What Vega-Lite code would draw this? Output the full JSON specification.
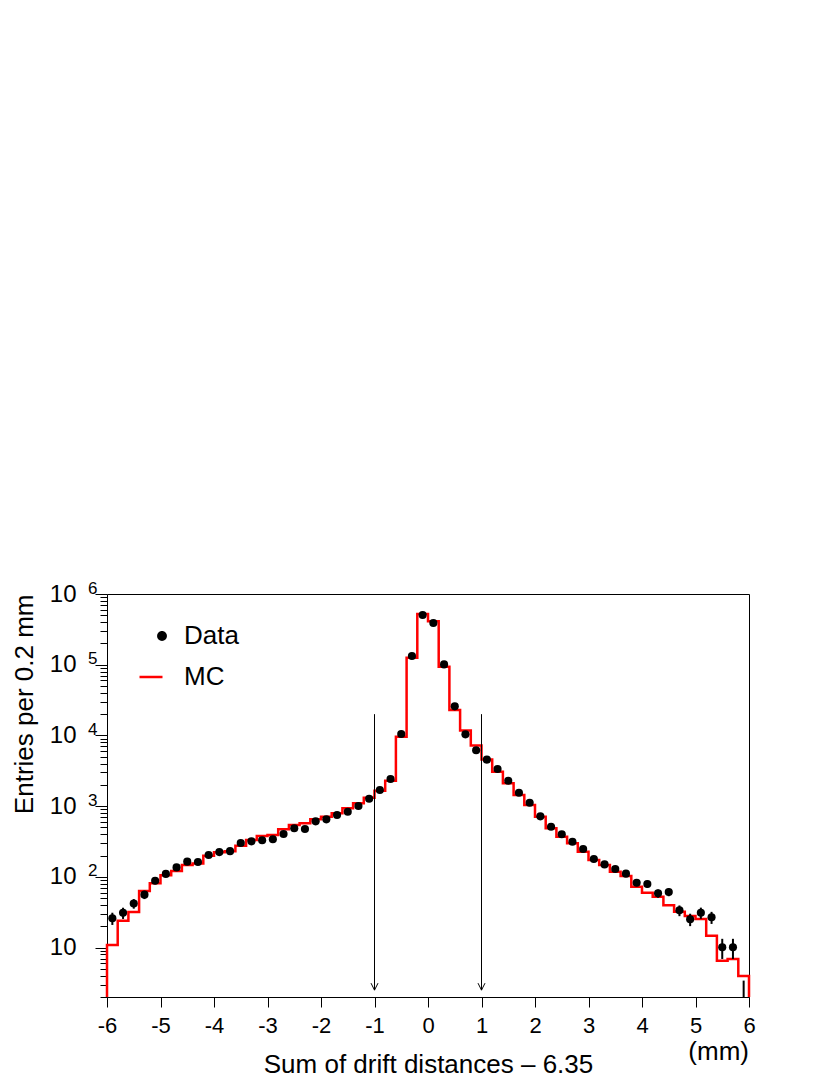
{
  "$schema": "https://vega.github.io/schema/vega-lite/v6.json",
  "autosize": "none",
  "width": 642,
  "height": 403,
  "padding": {"left": 107, "top": 594, "right": 81, "bottom": 78},
  "background": "white",
  "config": {"view": {"stroke": "black", "strokeWidth": 1}, "font": "Liberation Sans"},
  "title": {"text": "(mm)", "orient": "bottom", "anchor": "end", "frame": "group", "fontSize": 26, "fontWeight": "normal", "color": "black", "offset": -38, "font": "Liberation Sans"},
  "resolve": {"axis": {"y": "independent"}},
  "datasets": {
    "hist": [
      {"x": -5.9, "n": 26, "lo": 20.9, "hi": 31.1},
      {"x": -5.7, "n": 31, "lo": 25.4, "hi": 36.6},
      {"x": -5.5, "n": 42, "lo": 35.5, "hi": 48.5},
      {"x": -5.3, "n": 56, "lo": 48.5, "hi": 63.5},
      {"x": -5.1, "n": 88, "lo": 78.6, "hi": 97.4},
      {"x": -4.9, "n": 110, "lo": 99.5, "hi": 120.5},
      {"x": -4.7, "n": 136, "lo": 124.3, "hi": 147.7},
      {"x": -4.5, "n": 164, "lo": 151.2, "hi": 176.8},
      {"x": -4.3, "n": 162, "lo": 149.3, "hi": 174.7},
      {"x": -4.1, "n": 204, "lo": 189.7, "hi": 218.3},
      {"x": -3.9, "n": 224, "lo": 209, "hi": 239},
      {"x": -3.7, "n": 231, "lo": 215.8, "hi": 246.2},
      {"x": -3.5, "n": 301, "lo": 283.7, "hi": 318.3},
      {"x": -3.3, "n": 318, "lo": 300.2, "hi": 335.8},
      {"x": -3.1, "n": 329, "lo": 310.9, "hi": 347.1},
      {"x": -2.9, "n": 340, "lo": 321.6, "hi": 358.4},
      {"x": -2.7, "n": 403, "lo": 382.9, "hi": 423.1},
      {"x": -2.5, "n": 486, "lo": 464, "hi": 508},
      {"x": -2.3, "n": 475, "lo": 453.2, "hi": 496.8},
      {"x": -2.1, "n": 610, "lo": 585.3, "hi": 634.7},
      {"x": -1.9, "n": 651, "lo": 625.5, "hi": 676.5},
      {"x": -1.7, "n": 750, "lo": 722.6, "hi": 777.4},
      {"x": -1.5, "n": 834, "lo": 805.1, "hi": 862.9},
      {"x": -1.3, "n": 1004, "lo": 972.3, "hi": 1035.7},
      {"x": -1.1, "n": 1274, "lo": 1238.3, "hi": 1309.7},
      {"x": -0.9, "n": 1692, "lo": 1650.9, "hi": 1733.1},
      {"x": -0.7, "n": 2420, "lo": 2370.8, "hi": 2469.2},
      {"x": -0.5, "n": 10470, "lo": 10368, "hi": 10572},
      {"x": -0.3, "n": 132700, "lo": 132336, "hi": 133064},
      {"x": -0.1, "n": 505000, "lo": 504289, "hi": 505711},
      {"x": 0.1, "n": 389000, "lo": 388376, "hi": 389624},
      {"x": 0.3, "n": 101000, "lo": 100682, "hi": 101318},
      {"x": 0.5, "n": 25800, "lo": 25639, "hi": 25961},
      {"x": 0.7, "n": 10370, "lo": 10268, "hi": 10472},
      {"x": 0.9, "n": 6160, "lo": 6081.5, "hi": 6238.5},
      {"x": 1.1, "n": 4540, "lo": 4472.6, "hi": 4607.4},
      {"x": 1.3, "n": 3350, "lo": 3292.1, "hi": 3407.9},
      {"x": 1.5, "n": 2290, "lo": 2242.1, "hi": 2337.9},
      {"x": 1.7, "n": 1549, "lo": 1509.6, "hi": 1588.4},
      {"x": 1.9, "n": 1119, "lo": 1085.5, "hi": 1152.5},
      {"x": 2.1, "n": 718, "lo": 691.2, "hi": 744.8},
      {"x": 2.3, "n": 512, "lo": 489.4, "hi": 534.6},
      {"x": 2.5, "n": 400, "lo": 380, "hi": 420},
      {"x": 2.7, "n": 314, "lo": 296.3, "hi": 331.7},
      {"x": 2.9, "n": 248, "lo": 232.3, "hi": 263.7},
      {"x": 3.1, "n": 179, "lo": 165.6, "hi": 192.4},
      {"x": 3.3, "n": 150, "lo": 137.8, "hi": 162.2},
      {"x": 3.5, "n": 129, "lo": 117.6, "hi": 140.4},
      {"x": 3.7, "n": 111, "lo": 100.5, "hi": 121.5},
      {"x": 3.9, "n": 82.6, "lo": 73.5, "hi": 91.7},
      {"x": 4.1, "n": 79.2, "lo": 70.3, "hi": 88.1},
      {"x": 4.3, "n": 58.5, "lo": 50.85, "hi": 66.15},
      {"x": 4.5, "n": 61, "lo": 53.2, "hi": 68.8},
      {"x": 4.7, "n": 33.6, "lo": 27.8, "hi": 39.4},
      {"x": 4.9, "n": 25.1, "lo": 20.1, "hi": 30.1},
      {"x": 5.1, "n": 31.1, "lo": 25.5, "hi": 36.7},
      {"x": 5.3, "n": 26.8, "lo": 21.6, "hi": 32},
      {"x": 5.5, "n": 10.1, "lo": 6.9, "hi": 13.3},
      {"x": 5.7, "n": 10.1, "lo": 6.9, "hi": 13.3},
      {"x": 5.9, "n": 2, "lo": 0.59, "hi": 3.41}
    ],
    "mc": [
      {"ord": 0, "x": -6.0, "n": 2},
      {"ord": 1, "x": -6.0, "n": 10.9},
      {"ord": 2, "x": -5.8, "n": 24},
      {"ord": 3, "x": -5.6, "n": 31.8},
      {"ord": 4, "x": -5.4, "n": 63},
      {"ord": 5, "x": -5.2, "n": 81},
      {"ord": 6, "x": -5.0, "n": 105},
      {"ord": 7, "x": -4.8, "n": 121},
      {"ord": 8, "x": -4.6, "n": 147},
      {"ord": 9, "x": -4.4, "n": 155},
      {"ord": 10, "x": -4.2, "n": 199},
      {"ord": 11, "x": -4.0, "n": 222},
      {"ord": 12, "x": -3.8, "n": 231},
      {"ord": 13, "x": -3.6, "n": 275},
      {"ord": 14, "x": -3.4, "n": 332},
      {"ord": 15, "x": -3.2, "n": 378},
      {"ord": 16, "x": -3.0, "n": 391},
      {"ord": 17, "x": -2.8, "n": 470},
      {"ord": 18, "x": -2.6, "n": 541},
      {"ord": 19, "x": -2.4, "n": 573},
      {"ord": 20, "x": -2.2, "n": 651},
      {"ord": 21, "x": -2.0, "n": 709},
      {"ord": 22, "x": -1.8, "n": 792},
      {"ord": 23, "x": -1.6, "n": 931},
      {"ord": 24, "x": -1.4, "n": 1096},
      {"ord": 25, "x": -1.2, "n": 1318},
      {"ord": 26, "x": -1.0, "n": 1650},
      {"ord": 27, "x": -0.8, "n": 2290},
      {"ord": 28, "x": -0.6, "n": 9590},
      {"ord": 29, "x": -0.4, "n": 125600},
      {"ord": 30, "x": -0.2, "n": 521000},
      {"ord": 31, "x": 0.0, "n": 411000},
      {"ord": 32, "x": 0.2, "n": 93700},
      {"ord": 33, "x": 0.4, "n": 22900},
      {"ord": 34, "x": 0.6, "n": 11700},
      {"ord": 35, "x": 0.8, "n": 7200},
      {"ord": 36, "x": 1.0, "n": 4550},
      {"ord": 37, "x": 1.2, "n": 3070},
      {"ord": 38, "x": 1.4, "n": 2100},
      {"ord": 39, "x": 1.6, "n": 1436},
      {"ord": 40, "x": 1.8, "n": 1038},
      {"ord": 41, "x": 2.0, "n": 709},
      {"ord": 42, "x": 2.2, "n": 486},
      {"ord": 43, "x": 2.4, "n": 370},
      {"ord": 44, "x": 2.6, "n": 298},
      {"ord": 45, "x": 2.8, "n": 227},
      {"ord": 46, "x": 3.0, "n": 173},
      {"ord": 47, "x": 3.2, "n": 147},
      {"ord": 48, "x": 3.4, "n": 118},
      {"ord": 49, "x": 3.6, "n": 103},
      {"ord": 50, "x": 3.8, "n": 72.6},
      {"ord": 51, "x": 4.0, "n": 59.7},
      {"ord": 52, "x": 4.2, "n": 52.4},
      {"ord": 53, "x": 4.4, "n": 39.6},
      {"ord": 54, "x": 4.6, "n": 32.1},
      {"ord": 55, "x": 4.8, "n": 27.9},
      {"ord": 56, "x": 5.0, "n": 25.4},
      {"ord": 57, "x": 5.2, "n": 14.7},
      {"ord": 58, "x": 5.4, "n": 6.5},
      {"ord": 59, "x": 5.6, "n": 6.9},
      {"ord": 60, "x": 5.8, "n": 3.96},
      {"ord": 61, "x": 6.0, "n": 3.96},
      {"ord": 62, "x": 6.0, "n": 2}
    ],
    "arrows": [
      {"x": -1, "n": 2.5, "top": 20000},
      {"x": 1, "n": 2.5, "top": 20000}
    ]
  },
  "encoding": {
    "x": {
      "field": "x", "type": "quantitative",
      "scale": {"domain": [-6, 6], "nice": false, "zero": false},
      "axis": {
        "values": [-6, -5, -4, -3, -2, -1, 0, 1, 2, 3, 4, 5, 6],
        "labelExpr": "'' + datum.value",
        "labelFlush": false, "labelOverlap": false,
        "labelFontSize": 22, "labelColor": "black", "labelPadding": 8,
        "tickSize": 10, "tickColor": "black", "tickWidth": 1,
        "domain": false, "grid": false,
        "title": "Sum of drift distances – 6.35",
        "titleFontSize": 26, "titleFontWeight": "normal", "titleColor": "black",
        "titleX": 321, "titleY": 67, "titleBaseline": "middle", "titleAlign": "center"
      }
    },
    "y": {
      "field": "n", "type": "quantitative",
      "scale": {"type": "log", "domain": [2, 1000000], "nice": false},
      "axis": null
    }
  },
  "layer": [
    {
      "data": {"name": "mc"},
      "mark": {"type": "line", "interpolate": "step-after", "strokeWidth": 2.5},
      "encoding": {
        "y": {
          "field": "n", "type": "quantitative",
          "scale": {"type": "log", "domain": [2, 1000000], "nice": false},
          "axis": {
            "orient": "left",
            "values": [2,3,4,5,6,7,8,9,10,20,30,40,50,60,70,80,90,100,200,300,400,500,600,700,800,900,1000,2000,3000,4000,5000,6000,7000,8000,9000,10000,20000,30000,40000,50000,60000,70000,80000,90000,100000,200000,300000,400000,500000,600000,700000,800000,900000,1000000],
            "labelExpr": "indexof([10,100,1000,10000,100000,1000000], datum.value) >= 0 ? '10' : ''",
            "labelOverlap": false, "labelFlush": false,
            "labelFontSize": 24, "labelColor": "black", "labelPadding": 19,
            "tickSize": {"condition": {"test": "indexof([10,100,1000,10000,100000,1000000], datum.value) >= 0", "value": 12}, "value": 7},
            "tickColor": "black", "tickWidth": 1,
            "domain": false, "grid": false,
            "title": "Entries per 0.2 mm",
            "titleFontSize": 26, "titleFontWeight": "normal", "titleColor": "black",
            "titleAngle": -90, "titleAlign": "right", "titleBaseline": "bottom",
            "titleX": -70, "titleY": 0
          }
        },
        "order": {"field": "ord", "type": "quantitative"},
        "color": {
          "datum": "MC", "type": "nominal",
          "scale": {"domain": ["Data", "MC"], "range": ["black", "#ff0000"]},
          "legend": {
            "orient": "none", "legendX": 31, "legendY": 29, "title": null,
            "labelFontSize": 26, "labelColor": "black", "labelOffset": 20,
            "rowPadding": 15, "padding": 0, "symbolStrokeWidth": 2.5,
            "encode": {
              "symbols": {
                "update": {
                  "shape": {"signal": "datum.value === 'MC' ? 'stroke' : 'M 1.36 0 A 1.1 1.1 0 1 1 3.56 0 A 1.1 1.1 0 1 1 1.36 0 Z'"},
                  "fill": {"signal": "datum.value === 'MC' ? 'transparent' : 'black'"},
                  "stroke": {"signal": "datum.value === 'MC' ? '#ff0000' : 'black'"},
                  "size": {"signal": "datum.value === 'MC' ? 529 : 80"},
                  "strokeWidth": {"signal": "datum.value === 'MC' ? 2.5 : 0"},
                  "opacity": {"value": 1}
                }
              }
            }
          }
        }
      }
    },
    {
      "data": {"name": "hist"},
      "mark": {"type": "rule", "color": "black", "strokeWidth": 2, "clip": true},
      "encoding": {
        "y": {"field": "lo", "type": "quantitative", "scale": {"type": "log", "domain": [2, 1000000], "nice": false}, "axis": null},
        "y2": {"field": "hi"}
      }
    },
    {
      "data": {"name": "hist"},
      "transform": [{"filter": "datum.n > 2"}],
      "mark": {"type": "point", "shape": "circle", "filled": true, "size": 66, "opacity": 1},
      "encoding": {
        "color": {"datum": "Data", "type": "nominal"}
      }
    },
    {
      "data": {"name": "arrows"},
      "mark": {"type": "rule", "color": "black", "strokeWidth": 1},
      "encoding": {
        "y": {
          "field": "n", "type": "quantitative",
          "scale": {"type": "log", "domain": [2, 1000000], "nice": false},
          "axis": {
            "orient": "left",
            "values": [100, 1000, 10000, 100000, 1000000],
            "labelExpr": "datum.value == 100 ? '2' : datum.value == 1000 ? '3' : datum.value == 10000 ? '4' : datum.value == 100000 ? '5' : '6'",
            "labelOverlap": false, "labelFlush": false,
            "labelFontSize": 17, "labelColor": "black", "labelPadding": 10,
            "labelBaseline": "alphabetic", "labelOffset": -1,
            "ticks": false, "tickSize": 0,
            "domain": false, "grid": false, "title": null
          }
        },
        "y2": {"field": "top"}
      }
    },
    {
      "data": {"name": "arrows"},
      "mark": {"type": "point", "shape": "M -1 -2 L 0 0 L 1 -2", "filled": false, "stroke": "black", "strokeWidth": 1, "size": 49, "opacity": 1}
    }
  ]
}
